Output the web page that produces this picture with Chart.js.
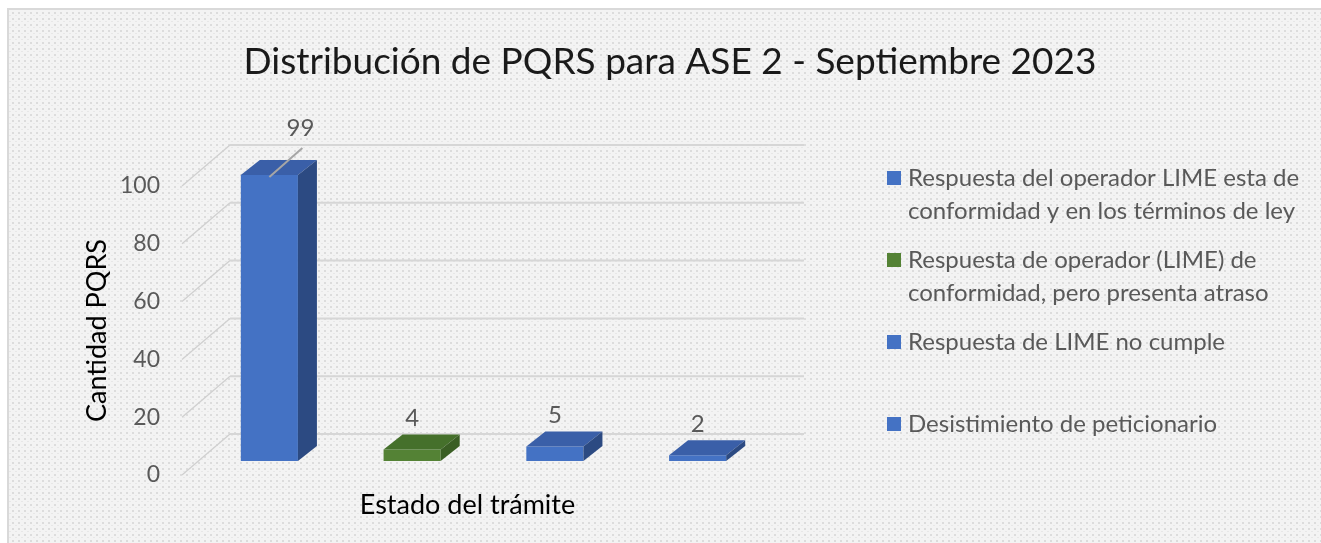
<!DOCTYPE html>
<html>
<head>
<meta charset="utf-8">
<script src="https://cdn.jsdelivr.net/npm/chart.js@4.4.0/dist/chart.umd.min.js"></script>
<style>
    html, body { margin: 0; padding: 0; background: #ffffff; }
</style>
</head>
<body>
<canvas id="pqrsChart" width="1321" height="543"></canvas>
<script>
// Distribución de PQRS - ASE 2, septiembre 2023

const categories = [
    ["Respuesta del operador LIME esta de", "conformidad y en los términos de ley"],
    ["Respuesta de operador (LIME) de", "conformidad, pero presenta atraso"],
    ["Respuesta de LIME no cumple"],
    ["Desistimiento de peticionario"]
];
const values = [99, 4, 5, 2];
const yTicks = [0, 20, 40, 60, 80, 100];

const frontColors = ["#4472C4", "#548235", "#4472C4", "#4472C4"];
const topColors = ["#3A5FA8", "#45702B", "#3A5FA8", "#3A5FA8"];
const sideColors = ["#2C4A82", "#3A5E24", "#2C4A82", "#2C4A82"];

const FONT = "Lato";
const GRAY = "#595959";

// depth of the 3D look
const barShift = { x: 16, y: -14 };   // front plane -> bar plane
const barDepth = { x: 19, y: -15 };
const wallDepth = { x: 48, y: -41 };  // front plane -> back wall

// dotted background
const tile = document.createElement("canvas");
tile.width = 6;
tile.height = 6;
const tctx = tile.getContext("2d");
tctx.fillStyle = "#f3f3f3";
tctx.fillRect(0, 0, 6, 6);
tctx.fillStyle = "#dcdcdc";
tctx.fillRect(0, 0, 2, 2);
tctx.fillStyle = "#e7e7e7";
tctx.fillRect(3, 3, 2, 1);

const background = {
    id: "background",
    beforeDraw(chart) {
        const c = chart.ctx;
        c.save();
        c.fillStyle = "#ffffff";
        c.fillRect(0, 0, chart.width, chart.height);
        c.fillStyle = c.createPattern(tile, "repeat");
        c.fillRect(8, 9, chart.width - 8, chart.height - 9);
        c.fillStyle = "#d9d9d9";
        c.fillRect(8, 8, chart.width - 8, 2);
        c.fillRect(7, 8, 2, chart.height - 8);
        c.restore();
    }
};

const threeD = {
    id: "threeD",
    beforeDatasetsDraw(chart) {
        const c = chart.ctx;
        const area = chart.chartArea;
        const y = chart.scales.y;
        const backRight = area.right + 51;
        c.save();
        yTicks.forEach(v => {
            const py = y.getPixelForValue(v);
            c.beginPath();
            c.moveTo(area.left, py);
            c.lineTo(area.left + wallDepth.x, py + wallDepth.y);
            c.strokeStyle = "#d0d0d0";
            c.lineWidth = 1.3;
            c.stroke();
            c.beginPath();
            c.moveTo(area.left + wallDepth.x, py + wallDepth.y);
            c.lineTo(backRight, py + wallDepth.y);
            c.strokeStyle = "#d6d6d6";
            c.lineWidth = 2;
            c.stroke();
        });
        c.restore();
        // bars sit in the middle of the floor
        c.save();
        c.translate(barShift.x, barShift.y);
    },
    afterDatasetsDraw(chart) {
        const c = chart.ctx;
        const meta = chart.getDatasetMeta(0);
        meta.data.forEach((bar, i) => {
            const p = bar.getProps(["x", "y", "base", "width"], true);
            const l = p.x - p.width / 2;
            const r = p.x + p.width / 2;
            c.beginPath();
            c.moveTo(l, p.y);
            c.lineTo(l + barDepth.x, p.y + barDepth.y);
            c.lineTo(r + barDepth.x, p.y + barDepth.y);
            c.lineTo(r, p.y);
            c.closePath();
            c.fillStyle = topColors[i];
            c.fill();
            c.beginPath();
            c.moveTo(r, p.y);
            c.lineTo(r + barDepth.x, p.y + barDepth.y);
            c.lineTo(r + barDepth.x, p.base + barDepth.y);
            c.lineTo(r, p.base);
            c.closePath();
            c.fillStyle = sideColors[i];
            c.fill();
        });
        c.restore();

        // value labels
        c.save();
        c.font = "24px " + FONT;
        c.fillStyle = GRAY;
        c.textAlign = "center";
        c.textBaseline = "middle";
        meta.data.forEach((bar, i) => {
            const p = bar.getProps(["x", "y"], true);
            let lx = p.x + barShift.x;
            let ly = p.y + barShift.y + barDepth.y - 16;
            if (i === 0) {
                const sx = lx, sy = p.y + barShift.y + 2;
                lx += 31;
                ly -= 16;
                c.beginPath();
                c.moveTo(sx, sy);
                c.lineTo(lx + 2, ly + 20);
                c.strokeStyle = "#a6a6a6";
                c.lineWidth = 2;
                c.stroke();
            }
            c.fillText(String(values[i]), lx, ly);
        });
        c.restore();
    }
};

const sideLegend = {
    id: "sideLegend",
    afterDraw(chart) {
        const c = chart.ctx;
        c.save();
        c.font = "24px " + FONT;
        c.textBaseline = "middle";
        c.textAlign = "left";
        categories.forEach((lines, i) => {
            const y0 = 178 + i * 82;
            c.fillStyle = frontColors[i];
            c.fillRect(887, y0 - 7, 14, 14);
            c.fillStyle = GRAY;
            lines.forEach((t, j) => c.fillText(t, 908, y0 + j * 33));
        });
        c.restore();
    }
};

new Chart(document.getElementById("pqrsChart"), {
    type: "bar",
    data: {
        labels: categories,
        datasets: [{
            data: values,
            backgroundColor: frontColors,
            barPercentage: 0.5,
            categoryPercentage: 0.8,
            clip: false
        }]
    },
    options: {
        responsive: false,
        animation: false,
        layout: { padding: { left: 19, right: 0, top: 0, bottom: 0 } },
        plugins: {
            legend: { display: false },
            tooltip: { enabled: false },
            title: {
                display: true,
                text: "Distribución de PQRS para ASE 2 - Septiembre 2023",
                color: "#1a1a1a",
                font: { family: FONT, size: 37, weight: "normal" },
                padding: { top: 40, bottom: 101.6 }
            }
        },
        scales: {
            x: {
                ticks: { display: false },
                grid: { display: false },
                border: { display: false },
                title: {
                    display: true,
                    text: "Estado del trámite",
                    color: "#000000",
                    font: { family: FONT, size: 27 },
                    padding: { top: 0, bottom: 22 }
                },
                afterFit(s) { s.height = 68; }
            },
            y: {
                min: yTicks[0],
                max: yTicks[yTicks.length - 1],
                ticks: {
                    stepSize: yTicks[1] - yTicks[0],
                    color: GRAY,
                    font: { family: FONT, size: 23 },
                    padding: 22
                },
                grid: { display: false, drawTicks: false },
                border: { display: false },
                title: {
                    display: true,
                    text: "Cantidad PQRS",
                    color: "#000000",
                    font: { family: FONT, size: 27 },
                    padding: { top: 62, bottom: 0 }
                },
                afterFit(s) { s.width = 163; }
            },
            legendSpace: {
                type: "linear",
                position: "right",
                display: true,
                ticks: { display: false },
                grid: { display: false },
                border: { display: false },
                afterFit(s) { s.width = 568; }
            }
        }
    },
    plugins: [background, threeD, sideLegend]
});
</script>
</body>
</html>
